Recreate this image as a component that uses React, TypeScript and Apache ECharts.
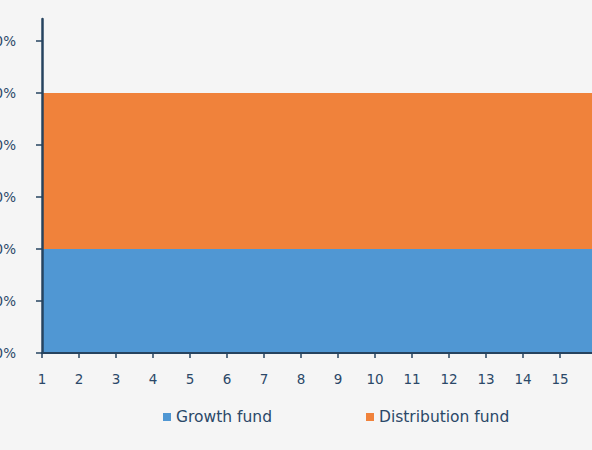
import React, { useEffect, useRef } from "react";
import * as echarts from "echarts";

const years = ["1", "2", "3", "4", "5", "6", "7", "8", "9", "10", "11", "12", "13", "14", "15", "16", "17"];
const growthFund = [20, 20, 20, 20, 20, 20, 20, 20, 20, 20, 20, 20, 20, 20, 20, 20, 20];
const distributionFund = [30, 30, 30, 30, 30, 30, 30, 30, 30, 30, 30, 30, 30, 30, 30, 30, 30];
const yTicks = [0, 10, 20, 30, 40, 50, 60];
const shownXLabels = 15;

const AXIS = "#26435f";
const TEXT = "#2b4868";
const FONT = "'DejaVu Sans', sans-serif";

export default function App() {
  const ref = useRef<HTMLDivElement>(null);
  useEffect(() => {
    if (!ref.current) return;
    const chart = echarts.init(ref.current, undefined, { renderer: "svg" });
    chart.setOption({
      animation: false,
      backgroundColor: "#f5f5f5",
      textStyle: { fontFamily: FONT },
      grid: { left: 42, top: 19, bottom: 97, width: 592, containLabel: false, outerBoundsMode: "none" },
      legend: {
        left: 158,
        top: 404,
        itemWidth: 8,
        itemHeight: 8,
        itemGap: 94,
        icon: "rect",
        textStyle: { color: TEXT, fontSize: 15.5, fontFamily: FONT },
        data: ["Growth fund", "Distribution fund"],
      },
      xAxis: {
        type: "category",
        data: years,
        boundaryGap: false,
        z: 5,
        splitLine: { show: false },
        axisLine: { lineStyle: { color: AXIS, width: 2 } },
        axisTick: { show: true, length: 5, interval: 0, lineStyle: { color: AXIS, width: 1.5 } },
        axisLabel: {
          color: TEXT,
          fontSize: 13.5,
          margin: 19,
          interval: (index: number) => index < shownXLabels,
          fontFamily: FONT,
        },
      },
      yAxis: {
        type: "value",
        min: 0,
        max: 64.2,
        interval: 10,
        z: 5,
        splitLine: { show: false },
        axisLine: { show: true, lineStyle: { color: AXIS, width: 2.5 } },
        axisTick: { show: true, length: 6, lineStyle: { color: AXIS, width: 1.5 }, customValues: yTicks },
        axisLabel: {
          color: TEXT,
          fontSize: 13.5,
          margin: 26,
          customValues: yTicks,
          formatter: (v: number) => v + "%",
          fontFamily: FONT,
        },
      },
      series: [
        {
          name: "Growth fund",
          type: "line",
          stack: "total",
          symbol: "none",
          lineStyle: { width: 0 },
          itemStyle: { color: "#5097d3" },
          areaStyle: { color: "#5097d3", opacity: 1 },
          data: growthFund,
          z: 1,
        },
        {
          name: "Distribution fund",
          type: "line",
          stack: "total",
          symbol: "none",
          lineStyle: { width: 0 },
          itemStyle: { color: "#f0823b" },
          areaStyle: { color: "#f0823b", opacity: 1 },
          data: distributionFund,
          z: 1,
        },
      ],
    });
    return () => chart.dispose();
  }, []);
  return (
    <div
      style={{
        position: "fixed",
        left: 0,
        top: 0,
        width: 592,
        height: 450,
        overflow: "hidden",
        background: "#f5f5f5",
      }}
    >
      <div ref={ref} style={{ position: "absolute", left: 0, top: 0, width: 680, height: 450 }} />
    </div>
  );
}
